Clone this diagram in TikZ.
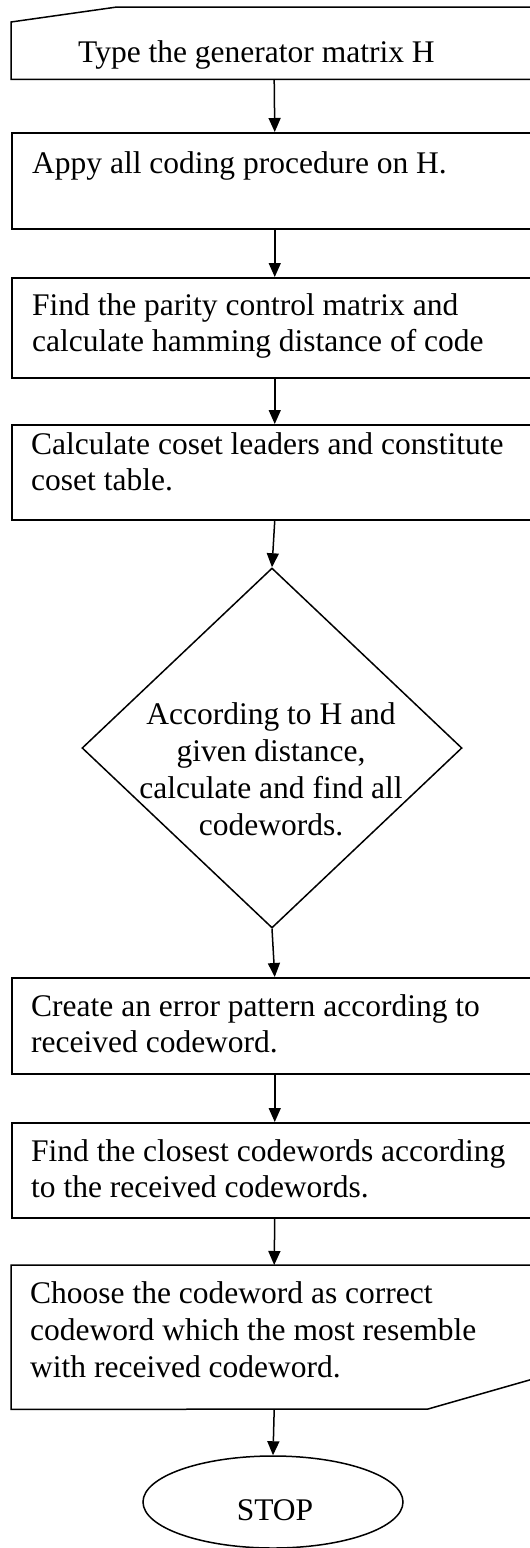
\documentclass[tikz,border=0pt]{standalone}
\usepackage{fontspec}
\setmainfont{Liberation Serif}
\usetikzlibrary{shapes.geometric,arrows.meta}
\tikzset{
  x=1pt, y=-1pt,
  line/.style={line width=1.5pt},
  boxnode/.style={line, draw, rectangle, inner sep=0pt, anchor=north west, minimum width=526pt},
  hidden/.style={rectangle, inner sep=0pt, anchor=north west, minimum width=526pt},
  txt/.style={anchor=base west, inner sep=0pt, align=left, font=\fontsize{31.5}{35.5}\selectfont},
  ctxt/.style={anchor=base, inner sep=0pt, align=center, font=\fontsize{31.5}{36.7}\selectfont},
  flow/.style={line, -{Triangle[length=14pt,width=12pt]}},
}
\begin{document}
\begin{tikzpicture}
\useasboundingbox (0,0) rectangle (530,1548);
\clip (0,0) rectangle (530,1548);
\fill[white] (0,0) rectangle (530,1548);
% box 1 (manual input)
\node[hidden, minimum height=72pt] (b1) at (11,7) {};
\draw[line] (b1.north east) -- (117,7) -- (11,22) -- (b1.south west) -- (b1.south east);
\node[txt] (t1) at (78,62) {Type the generator matrix H};
% box 2
\node[boxnode, minimum height=96pt] (b2) at (11,132) {};
\node[txt] (t2) at (32,173) {Appy all coding procedure on H.};
% box 3
\node[boxnode, minimum height=100pt] (b3) at (11,277) {};
\node[txt] (t3) at (32,351) {Find the parity control matrix and\\calculate hamming distance of code};
% box 4
\node[boxnode, minimum height=95pt] (b4) at (11,424) {};
\node[txt] (t4) at (31,490) {Calculate coset leaders and constitute\\coset table.};
% diamond
\node[line, draw, diamond, inner sep=0pt, minimum width=380pt, minimum height=360pt] (d) at (272,748) {};
\node[ctxt] (td) at (271,835) {According to H and\\given distance,\\calculate and find all\\codewords.};
% box 5
\node[boxnode, minimum height=96pt] (b5) at (11,977) {};
\node[txt] (t5) at (31,1052) {Create an error pattern according to\\received codeword.};
% box 6
\node[boxnode, minimum height=95pt] (b6) at (11,1122) {};
\node[txt] (t6) at (31,1197) {Find the closest codewords according\\to the received codewords.};
% box 7 (manual input, slanted bottom right)
\node[hidden, minimum height=144pt] (b7) at (11,1265) {};
\draw[line] (b7.north east) -- (b7.north west) -- (b7.south west) -- (428,1409) -- (540,1377);
\node[txt, font=\fontsize{31.5}{37}\selectfont] (t7) at (30,1377) {Choose the codeword as correct\\codeword which the most resemble\\with received codeword.};
% stop
\node[line, draw, ellipse, inner sep=0pt, minimum width=260pt, minimum height=92pt] (stop) at (273,1502) {};
\node[ctxt] (ts) at (275,1520) {STOP};
% connectors
\draw[flow] (b1.south) -- (b2.north);
\draw[flow] (b2.south) -- (b3.north);
\draw[flow] (b3.south) -- (b4.north);
\draw[flow] (b4.south) -- (d.north);
\draw[flow] (d.south) -- (b5.north);
\draw[flow] (b5.south) -- (b6.north);
\draw[flow] (b6.south) -- (b7.north);
\draw[flow] (b7.south) -- (stop.north);
\end{tikzpicture}
\end{document}
